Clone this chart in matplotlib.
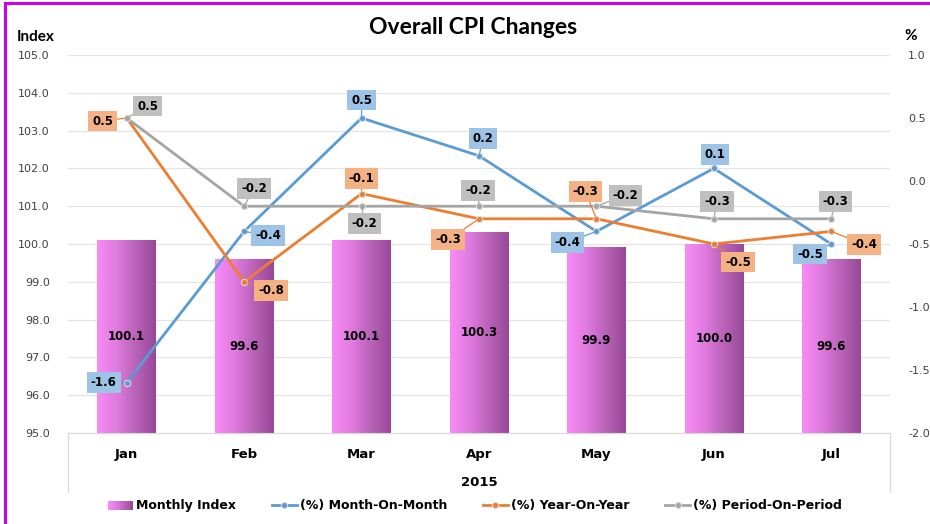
import numpy as np
import matplotlib
matplotlib.use("Agg")
import matplotlib.pyplot as plt
from matplotlib.patches import Rectangle
from matplotlib.lines import Line2D
from matplotlib.legend_handler import HandlerBase
from matplotlib.colors import LinearSegmentedColormap

# ---------------- data ----------------
months = ["Jan", "Feb", "Mar", "Apr", "May", "Jun", "Jul"]
year_label = "2015"
monthly_index = [100.1, 99.6, 100.1, 100.3, 99.9, 100.0, 99.6]
mom = [-1.6, -0.4, 0.5, 0.2, -0.4, 0.1, -0.5]
yoy = [0.5, -0.8, -0.1, -0.3, -0.3, -0.5, -0.4]
pop = [0.5, -0.2, -0.2, -0.2, -0.2, -0.3, -0.3]
left_ticks = [95, 96, 97, 98, 99, 100, 101, 102, 103, 104, 105]
right_ticks = [-2.0, -1.5, -1.0, -0.5, 0.0, 0.5, 1.0]

# label offsets in pixels (dx, dy up)
mom_off = [(-23, 0), (24, -4), (0, 18), (4, 17), (-29, -11), (1, 14), (-21, -10)]
yoy_off = [(-24, -3), (27, -9), (0, 15), (-31, -21), (-11, 27), (24, -18), (33, -13)]
pop_off = [(21, 12), (10, 18), (3, -17), (-1, 16), (29, 11), (3, 17), (4, 17)]

# ---------------- style ----------------
BLUE, ORANGE, GRAY = "#5B9BD5", "#ED7D31", "#A5A5A5"
BLUE_BOX, ORANGE_BOX, GRAY_BOX = "#9DC3E6", "#F4B183", "#BFBFBF"
grad = LinearSegmentedColormap.from_list("g", ["#F78CF5", "#E07AE0", "#B862B8", "#984898"])
GRID = "#E4E4E4"
TXT = "#404040"

fig = plt.figure(figsize=(9.3, 5.24), dpi=100)
fig.patch.set_facecolor("white")

ax = fig.add_axes([68/930, 1-433/524, (890-68)/930, (433-55)/524])
ax2 = ax.twinx()

x = np.arange(len(months))
bars = ax.bar(x, monthly_index, width=0.5, bottom=0, color="none", zorder=2)
gimg = np.linspace(0, 1, 256).reshape(1, -1)
for b, v in zip(bars, monthly_index):
    x0 = b.get_x(); w = b.get_width()
    ax.imshow(gimg, cmap=grad, extent=[x0, x0+w, 95, v], aspect="auto", zorder=2, interpolation="bilinear")
    ax.text(x0+w/2, (95+v)/2, f"{v:.1f}", ha="center", va="center", fontsize=8.5,
            fontweight="bold", color="black", zorder=3)
ax.set_xlim(-0.5, len(months)-0.5)
ax.set_ylim(95, 105)

ax.set_yticks(left_ticks)
ax.set_yticklabels([f"{t:.1f}" for t in left_ticks], fontsize=8, color=TXT)
ax.yaxis.grid(True, color=GRID, lw=0.9, zorder=0)
ax.set_axisbelow(True)
ax.tick_params(axis="y", length=0, pad=13)
ax.set_xticks(x)
ax.set_xticklabels(months, fontsize=9.5, fontweight="bold", color="black")
ax.tick_params(axis="x", length=0, pad=11)
for s in ["top", "left", "right"]:
    ax.spines[s].set_visible(False)
ax.spines["bottom"].set_color("#D9D9D9")
for s in ax2.spines.values():
    s.set_visible(False)

# category-axis box lines
for xa in (0, 1):
    ax.add_line(Line2D([xa, xa], [0, -59/378], transform=ax.transAxes, color="#D9D9D9",
                       lw=0.9, clip_on=False))
ax.text(0.5, -49/378, year_label, transform=ax.transAxes, ha="center", va="center",
        fontsize=9.5, fontweight="bold")

ax2.set_ylim(-2.0, 1.0)
ax2.set_yticks(right_ticks)
ax2.set_yticklabels([f"{t:.1f}" for t in right_ticks], fontsize=8, color=TXT)
ax2.tick_params(axis="y", length=0, pad=13)

series = [
    (mom, BLUE, BLUE_BOX, mom_off, "(%) Month-On-Month"),
    (yoy, ORANGE, ORANGE_BOX, yoy_off, "(%) Year-On-Year"),
    (pop, GRAY, GRAY_BOX, pop_off, "(%) Period-On-Period"),
]
handles = []
for vals, col, boxc, offs, name in series:
    ln, = ax2.plot(x, vals, color=col, lw=2, marker="o", ms=4.5, mfc=col,
                   mec="#DDDDDD", mew=0.8, zorder=4, label=name)
    handles.append(ln)
for vals, col, boxc, offs, name in series:
    for xi, v, (dx, dy) in zip(x, vals, offs):
        ax2.annotate(f"{v:.1f}", xy=(xi, v), xytext=(dx, dy), textcoords="offset pixels",
                     ha="center", va="center", fontsize=8.5, fontweight="bold", color="black",
                     bbox=dict(boxstyle="square,pad=0.33", fc=boxc, ec="none"),
                     arrowprops=dict(arrowstyle="-", color=col, lw=0.9, shrinkA=0, shrinkB=2),
                     zorder=6)

# titles
fig.text(473/930, 1-28/524, "Overall CPI Changes", ha="center", va="center",
         fontsize=16.5, fontweight="bold", family="Lato")
fig.text(17/930, 1-37/524, "Index", ha="left", va="center", fontsize=11, fontweight="bold", family="Lato")
fig.text(911/930, 1-36/524, "%", ha="center", va="center", fontsize=11, fontweight="bold", family="Lato")

# legend
class GradHandler(HandlerBase):
    def create_artists(self, legend, orig, xd, yd, w, h, fontsize, trans):
        n = 30
        arts = []
        for i in range(n):
            r = Rectangle((xd + w*i/n, yd), w/n*1.05, h, fc=grad(i/(n-1)), ec="none", transform=trans)
            arts.append(r)
        return arts

bar_handle = Rectangle((0, 0), 1, 1, label="Monthly Index")
fig.legend([bar_handle] + handles, ["Monthly Index"] + [s[4] for s in series],
           handler_map={Rectangle: GradHandler()}, loc="center", bbox_to_anchor=(475/930, 1-506/524),
           ncol=4, frameon=False, prop=dict(weight="bold", size=9), handlelength=2.0,
           handletextpad=0.25, columnspacing=2.85, borderaxespad=0)

# magenta border
fig.add_artist(Rectangle((5/930, -0.05), 1.2, 1-3/524+0.05, transform=fig.transFigure,
                         fill=False, ec="#CC00EE", lw=2.2))

fig.savefig("out.png", dpi=100)
